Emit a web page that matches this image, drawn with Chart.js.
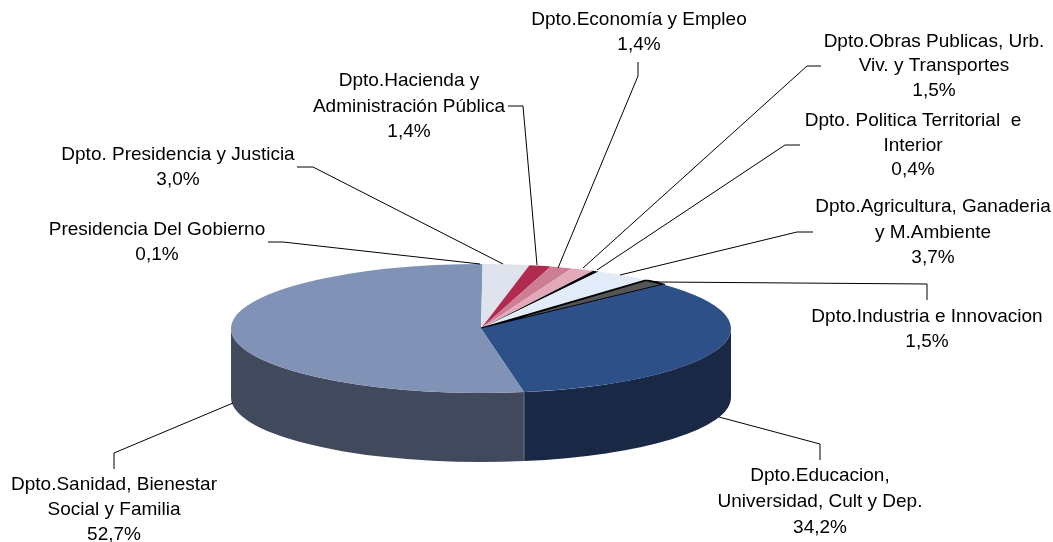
<!DOCTYPE html>
<html>
<head>
<meta charset="utf-8">
<style>
  html, body { margin: 0; padding: 0; background: #fff; }
  #wrap { position: relative; width: 1053px; height: 542px; }
</style>
<script src="https://cdn.jsdelivr.net/npm/chart.js@4"></script>
</head>
<body>
<div id="wrap"><canvas id="grafico"></canvas></div>
<script>
// datos
const categorias = [
  ["Presidencia Del Gobierno"],
  ["Dpto. Presidencia y Justicia"],
  ["Dpto.Hacienda y", "Administración Pública"],
  ["Dpto.Economía y Empleo"],
  ["Dpto.Obras Publicas, Urb.", "Viv. y Transportes"],
  ["Dpto. Politica Territorial  e", "Interior"],
  ["Dpto.Agricultura, Ganaderia", "y M.Ambiente"],
  ["Dpto.Industria e Innovacion"],
  ["Dpto.Educacion,", "Universidad, Cult y Dep."],
  ["Dpto.Sanidad, Bienestar", "Social y Familia"]
];
const valores = [0.1, 3.0, 1.4, 1.4, 1.5, 0.4, 3.7, 1.5, 34.2, 52.7];

// estilos
const coloresTapa = ["#7f92b6", "#dfe3ec", "#b02b4f", "#cd7d94", "#e3a9b9", "#000000", "#e2ebf9", "#555555", "#2e5088", "#8093b7"];
const coloresBorde = ["#7f92b6", "#dfe3ec", "#b02b4f", "#cd7d94", "#e3a9b9", "#000000", "#e2ebf9", "#000000", "#2e5088", "#8093b7"];
const anchosBorde = [0, 0, 0, 0, 0, 0, 0, 5, 0, 0];
const coloresPared = ["#5a6478", "#8a8e96", "#6e1b31", "#80505d", "#8e6a74", "#000000", "#8d939c", "#333333", "#182845", "#414a5d"];

// posicion de cada etiqueta: centro x, y de cada renglon, y guia
const etiquetas = [
  { x: 157, y: [230, 255], guia: [[268, 242], [283, 242], [480, 264]] },
  { x: 178, y: [155, 180], guia: [[297, 167], [313, 167], [503, 264]] },
  { x: 409, y: [81, 107, 132], guia: [[508, 106], [523, 106], [537, 265]] },
  { x: 639, y: [20, 45], guia: [[638, 62], [638, 76], [558, 268]] },
  { x: 934, y: [42, 66, 91], guia: [[821, 66], [807, 66], [583, 268]] },
  { x: 913, y: [121, 146, 170], guia: [[800, 145], [785, 145], [597, 270]] },
  { x: 933, y: [207, 233, 258], guia: [[813, 232], [797, 232], [620, 275]] },
  { x: 927, y: [317, 342], guia: [[927, 300], [927, 284], [660, 282], [650, 281]] },
  { x: 820, y: [476, 502, 528], guia: [[820, 460], [820, 444], [719, 417]] },
  { x: 114, y: [485, 510, 535], guia: [[114, 469], [114, 453], [233, 403]] }
];

const centroY = 328.5; // centro de la elipse en pantalla
const radioY = 64.5;   // semieje vertical
const alto = 69;       // altura del cilindro

// pintamos la pared del cilindro y aplastamos la tarta
const pastel3d = {
  id: "pastel3d",
  beforeDatasetsDraw(chart) {
    const ctx = chart.ctx;
    const arcos = chart.getDatasetMeta(0).data;
    arcos.forEach((arco, i) => {
      const p = arco.getProps(["x", "startAngle", "endAngle", "outerRadius"], true);
      const ini = Math.max(p.startAngle, 0);
      const fin = Math.min(p.endAngle, Math.PI);
      if (fin <= ini) return;
      ctx.beginPath();
      ctx.ellipse(p.x, centroY, p.outerRadius, radioY, 0, ini, fin);
      ctx.ellipse(p.x, centroY + alto, p.outerRadius, radioY, 0, fin, ini, true);
      ctx.closePath();
      ctx.fillStyle = coloresPared[i];
      ctx.fill();
    });
    // linea clara entre sanidad y educacion
    const p0 = arcos[9].getProps(["x", "startAngle", "outerRadius"], true);
    const xs = p0.x + p0.outerRadius * Math.cos(p0.startAngle);
    const ys = centroY + radioY * Math.sin(p0.startAngle);
    ctx.beginPath();
    ctx.moveTo(xs, ys);
    ctx.lineTo(xs, ys + alto);
    ctx.strokeStyle = "#6b7280";
    ctx.lineWidth = 1;
    ctx.stroke();

    const p = arcos[0].getProps(["x", "y", "outerRadius"], true);
    ctx.save();
    ctx.translate(p.x, centroY);
    ctx.scale(1, radioY / p.outerRadius);
    ctx.translate(-p.x, -p.y);
  },
  afterDatasetsDraw(chart) {
    chart.ctx.restore();
  },
  afterDraw(chart) {
    const ctx = chart.ctx;
    ctx.save();
    ctx.strokeStyle = "#000";
    ctx.lineWidth = 1;
    etiquetas.forEach(e => {
      ctx.beginPath();
      e.guia.forEach((g, n) => n ? ctx.lineTo(g[0], g[1]) : ctx.moveTo(g[0], g[1]));
      ctx.stroke();
    });
    ctx.font = '19px "Liberation Sans"';
    ctx.fillStyle = "#000";
    ctx.textAlign = "center";
    ctx.textBaseline = "middle";
    etiquetas.forEach((e, i) => {
      const lineas = categorias[i].concat(valores[i].toFixed(1).replace(".", ",") + "%");
      lineas.forEach((t, n) => ctx.fillText(t, e.x, e.y[n]));
    });
    ctx.restore();
  }
};

new Chart(document.getElementById("grafico"), {
  type: "pie",
  data: {
    labels: categorias.map(c => c.join(" ")),
    datasets: [{
      data: valores,
      backgroundColor: coloresTapa,
      borderColor: coloresBorde,
      borderWidth: anchosBorde
    }]
  },
  options: {
    responsive: true,
    maintainAspectRatio: false,
    animation: false,
    radius: 250,
    layout: { padding: { right: 91 } },
    plugins: { legend: { display: false }, tooltip: { enabled: false } }
  },
  plugins: [pastel3d]
});
</script>
</body>
</html>
